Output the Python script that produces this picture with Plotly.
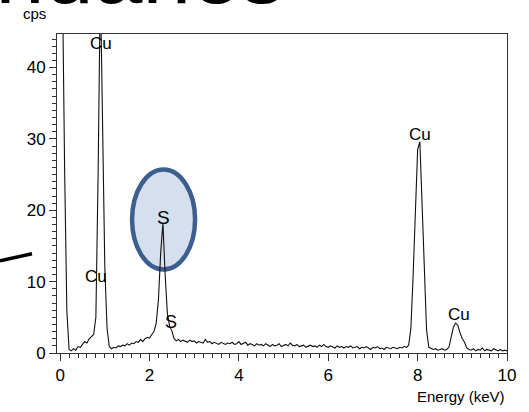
import plotly.graph_objects as go

# EDS spectrum: counts per second, channels every 0.05 keV from 0 to 10 keV
energy_start = 0.0
energy_step = 0.05
cps = [
    80, 48, 26, 6, 0.5, 0.3, 0.6, 0.4, 0.9, 0.8, 1.2, 1.6, 1.4, 2.0, 2.3, 2.6, 5, 25, 52, 34,
    12, 3.5, 0.9, 0.6, 0.8, 0.7, 1.0, 0.9, 1.1, 1.0, 1.3, 1.1, 1.4, 1.3, 1.6, 1.5, 1.9, 1.6, 2.0, 2.2,
    2.1, 2.6, 3.0, 4.2, 7.5, 14, 18.2, 11, 5.5, 3.8, 3.1, 2.0, 1.7, 1.9, 1.6, 1.8, 1.7, 1.5, 1.8, 1.6,
    1.7, 1.4, 1.6, 1.5, 1.4, 1.9, 1.5, 1.6, 1.3, 1.5, 1.4, 1.2, 1.5, 1.3, 1.2, 1.4, 1.3, 1.5, 1.2, 1.3,
    1.6, 1.2, 1.4, 1.5, 1.1, 1.3, 1.2, 1.0, 1.3, 1.1, 1.2, 1.0, 1.3, 1.1, 0.9, 1.2, 1.0, 1.1, 1.3, 0.9,
    1.1, 1.2, 1.0, 1.4, 1.1, 1.0, 1.2, 0.9, 1.0, 1.1, 0.8, 1.0, 1.1, 0.9, 1.0, 0.8, 1.1, 0.9, 1.2, 0.9,
    0.8, 1.0, 0.9, 0.7, 1.0, 0.8, 0.9, 0.7, 0.9, 0.8, 1.0, 0.7, 0.8, 0.9, 0.6, 0.8, 0.7, 0.9, 0.7, 0.5,
    0.8, 0.7, 0.9, 0.6, 0.7, 0.5, 0.8, 0.7, 0.6, 0.8, 0.7, 0.6, 0.8, 0.7, 0.9, 0.8, 1.1, 3.5, 11, 21,
    28.5, 29.6, 21, 10, 3.2, 0.8, 0.6, 0.5, 0.6, 0.4, 0.5, 0.6, 0.4, 0.5, 0.8, 2.2, 3.6, 4.2, 3.9, 2.8,
    2.0, 1.5, 0.7, 0.5, 0.4, 0.6, 0.3, 0.5, 0.4, 0.7, 0.3, 0.5, 0.4, 0.3, 0.6, 0.4, 0.3, 0.5, 0.3, 0.4,
    0.3,
]

# Peak labels
peak_names = ["Cu", "Cu", "S", "S", "Cu", "Cu"]
peak_x = [0.92, 0.805, 2.315, 2.48, 8.05, 8.915]
peak_y = [43.3, 10.75, 19.0, 4.3, 30.6, 5.36]
peak_size = [17, 17, 19, 18, 17, 17]

x_ticks = [0, 2, 4, 6, 8, 10]
y_ticks = [0, 10, 20, 30, 40]

FONT = "Liberation Sans, Arial, sans-serif"

fig = go.Figure()
fig.add_trace(go.Scatter(
    x0=energy_start, dx=energy_step, y=cps, mode="lines",
    line=dict(color="#111111", width=1.1), hoverinfo="skip", showlegend=False,
))

# highlight ellipse around S peak (drawn beneath the spectrum)
fig.add_shape(type="circle", xref="x", yref="y", x0=1.61, x1=3.02, y0=11.7, y1=25.7,
              fillcolor="#d5dfed", line=dict(color="#3d5f90", width=4.5), layer="below")

# pointer line at the left edge (from the slide)
fig.add_shape(type="line", xref="paper", yref="paper",
              x0=-0.1267, y0=0.289, x1=-0.0556, y1=0.311,
              line=dict(color="#000000", width=3.5))

for name, xv, yv, sz in zip(peak_names, peak_x, peak_y, peak_size):
    fig.add_annotation(x=xv, y=yv, xref="x", yref="y", text=name, showarrow=False,
                       font=dict(family=FONT, size=sz, color="#000000"))

fig.add_annotation(x=1.0, y=-0.137, xref="paper", yref="paper", text="Energy (keV)",
                   xanchor="right", yanchor="middle", showarrow=False,
                   font=dict(family=FONT, size=15, color="#000000"))
fig.add_annotation(x=-0.049, y=1.0636, xref="paper", yref="paper", text="cps",
                   xanchor="center", yanchor="middle", showarrow=False,
                   font=dict(family=FONT, size=15, color="#000000"))
# slide title, mostly cut off at the top of the picture
fig.add_annotation(x=(285 - 57) / 450, y=1.0332, xref="paper", yref="paper", text="Boundaries",
                   xanchor="right", yanchor="bottom", showarrow=False, borderpad=0,
                   font=dict(family=FONT, size=88, color="#000000"))

axis_common = dict(
    showgrid=False, zeroline=False, showline=True, linecolor="#333333", linewidth=1,
    mirror=True, ticks="outside", tickcolor="#333333", ticklen=7, tickwidth=1,
    tickfont=dict(family=FONT, size=17, color="#000000"),
)
fig.update_xaxes(range=[-0.07, 10], tickvals=x_ticks,
                 minor=dict(dtick=0.2, ticks="outside", ticklen=4, tickcolor="#333333"),
                 **axis_common)
fig.update_yaxes(range=[0, 44.7], tickvals=y_ticks,
                 minor=dict(dtick=1, ticks="outside", ticklen=4, tickcolor="#333333"),
                 **axis_common)

fig.update_layout(
    width=529, height=412,
    margin=dict(l=57, r=22, t=34, b=59),
    paper_bgcolor="#ffffff", plot_bgcolor="#ffffff",
    showlegend=False, hovermode=False,
)

fig.write_html("out.html", config={"displayModeBar": False})
